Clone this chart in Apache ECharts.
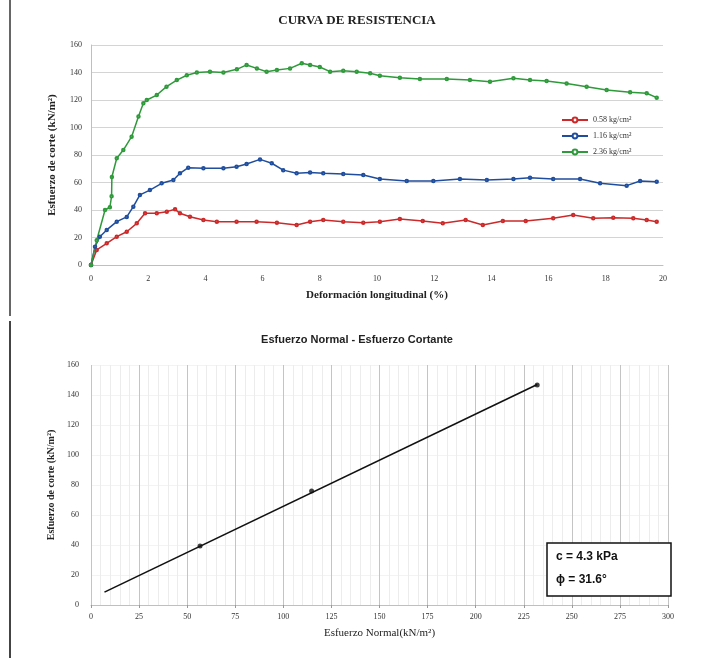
<!DOCTYPE html>
<html>
<head>
<meta charset="utf-8">
<script src="https://cdn.jsdelivr.net/npm/echarts@6/dist/echarts.min.js"></script>
<style>
html,body{margin:0;padding:0;background:#fff;}
#c{width:701px;height:658px;}
</style>
</head>
<body>
<div id="c"></div>
<script>
// ---- Top chart: CURVA DE RESISTENCIA ----
const xTicksTop = [0, 2, 4, 6, 8, 10, 12, 14, 16, 18, 20];
const legendNames = ['0.58 kg/cm²', '1.16 kg/cm²', '2.36 kg/cm²'];

const redX = [0, 0.2, 0.55, 0.9, 1.25, 1.6, 1.89, 2.3, 2.65, 2.94, 3.11, 3.46, 3.93, 4.4, 5.09, 5.79, 6.5, 7.19, 7.66, 8.12, 8.82, 9.52, 10.1, 10.8, 11.6, 12.3, 13.1, 13.7, 14.4, 15.2, 16.16, 16.86, 17.56, 18.26, 18.96, 19.43, 19.78];
const redY = [0, 11, 15.8, 20.6, 24.2, 30.3, 37.6, 37.6, 38.8, 40.5, 37.6, 35.1, 32.7, 31.5, 31.5, 31.5, 30.8, 29.1, 31.5, 32.7, 31.5, 30.8, 31.5, 33.5, 32, 30.3, 32.7, 29.1, 32, 32, 34, 36.4, 34, 34.4, 34, 32.7, 31.5];

const blueX = [0, 0.14, 0.31, 0.55, 0.9, 1.25, 1.48, 1.71, 2.06, 2.47, 2.88, 3.11, 3.4, 3.93, 4.63, 5.09, 5.44, 5.91, 6.32, 6.72, 7.19, 7.66, 8.12, 8.82, 9.52, 10.1, 11.04, 11.97, 12.9, 13.84, 14.77, 15.35, 16.16, 17.1, 17.8, 18.73, 19.2, 19.78];
const blueY = [0, 13.3, 20.6, 25.5, 31.5, 35, 42.4, 51, 54.5, 59.4, 61.8, 66.7, 70.8, 70.3, 70.3, 71.5, 73.5, 76.8, 74, 69, 66.7, 67.2, 66.7, 66.2, 65.5, 62.5, 61.1, 61.1, 62.5, 61.8, 62.5, 63.5, 62.5, 62.5, 59.4, 57.7, 61.1, 60.6];

const greenX = [0, 0.2, 0.49, 0.66, 0.72, 0.73, 0.9, 1.13, 1.42, 1.66, 1.83, 1.95, 2.3, 2.64, 3.0, 3.35, 3.7, 4.16, 4.63, 5.1, 5.44, 5.8, 6.14, 6.5, 6.96, 7.37, 7.66, 8.0, 8.36, 8.82, 9.29, 9.76, 10.1, 10.8, 11.5, 12.44, 13.25, 13.95, 14.77, 15.35, 15.93, 16.63, 17.33, 18.03, 18.85, 19.43, 19.78];
const greenY = [0, 18, 40, 42, 50, 64, 77.6, 83.6, 93.3, 108, 117.6, 120, 123.6, 129.7, 134.5, 138, 140, 140.6, 140, 142.3, 145.5, 143, 140.6, 141.8, 143, 146.7, 145.5, 144, 140.6, 141.3, 140.6, 139.4, 137.7, 136.2, 135.3, 135.3, 134.5, 133.3, 135.8, 134.5, 133.8, 132, 129.7, 127.3, 125.6, 124.9, 121.7];

// ---- Bottom chart: Esfuerzo Normal - Esfuerzo Cortante ----
const sigmaPts = [56.7, 114.7, 232];
const tauPts = [39.3, 76, 146.7];
const trendX = [7, 232];
const trendY = [8.6, 147];
const cohesionText = 'c = 4.3 kPa';
const phiText = 'ϕ = 31.6°';

function zip(a, b) { return a.map((v, i) => [v, b[i]]); }

const serif = 'Liberation Serif';

function lineSeries(name, xs, ys, color) {
  return {
    name: name, type: 'line', xAxisIndex: 0, yAxisIndex: 0,
    data: zip(xs, ys),
    symbol: 'emptyCircle', symbolSize: 2.5, showSymbol: true,
    lineStyle: { color: color, width: 1.5 },
    itemStyle: { color: color, borderColor: color, borderWidth: 0.8 },
    animation: false
  };
}

const chart = echarts.init(document.getElementById('c'), null, { renderer: 'canvas' });
chart.setOption({
  backgroundColor: '#fff',
  animation: false,
  grid: [
    { left: 91, top: 45, width: 572, height: 220 },
    { left: 91, top: 365, width: 577, height: 240 }
  ],
  legend: {
    data: legendNames,
    orient: 'vertical',
    left: 556, top: 111,
    itemWidth: 26, itemHeight: 6, itemGap: 8,
    textStyle: { fontFamily: serif, fontSize: 8, color: '#333' }
  },
  xAxis: [
    {
      gridIndex: 0, type: 'value', min: 0, max: 20, interval: 2,
      name: 'Deformación longitudinal (%)', nameLocation: 'middle', nameGap: 25,
      nameTextStyle: { fontFamily: serif, fontSize: 11, fontWeight: 'bold', color: '#222' },
      axisLine: { show: true, lineStyle: { color: '#bfbfbf' } },
      axisTick: { show: false },
      axisLabel: { fontFamily: serif, fontSize: 8, color: '#333', margin: 10 },
      splitLine: { show: false }
    },
    {
      gridIndex: 1, type: 'value', min: 0, max: 300, interval: 25,
      name: 'Esfuerzo Normal(kN/m²)', nameLocation: 'middle', nameGap: 23,
      nameTextStyle: { fontFamily: serif, fontSize: 11, color: '#222' },
      axisLine: { show: true, lineStyle: { color: '#bfbfbf' } },
      axisTick: { show: true, length: 3, lineStyle: { color: '#999' } },
      axisLabel: { fontFamily: serif, fontSize: 8, color: '#333', margin: 8 },
      splitLine: { show: true, lineStyle: { color: '#c4c4c4', width: 1 } },
      minorTick: { show: false, splitNumber: 5 },
      minorSplitLine: { show: true, lineStyle: { color: '#ececec', width: 1 } }
    }
  ],
  yAxis: [
    {
      gridIndex: 0, type: 'value', min: 0, max: 160, interval: 20,
      name: 'Esfuerzo de corte (kN/m²)', nameLocation: 'middle', nameGap: 33,
      nameTextStyle: { fontFamily: serif, fontSize: 11, fontWeight: 'bold', color: '#222' },
      axisLine: { show: true, lineStyle: { color: '#bfbfbf' } },
      axisTick: { show: false },
      axisLabel: { fontFamily: serif, fontSize: 8, color: '#333', margin: 9 },
      splitLine: { show: true, lineStyle: { color: '#d4d4d4', width: 1.2 } }
    },
    {
      gridIndex: 1, type: 'value', min: 0, max: 160, interval: 20,
      name: 'Esfuerzo de corte (kN/m²)', nameLocation: 'middle', nameGap: 34,
      nameTextStyle: { fontFamily: serif, fontSize: 10, fontWeight: 'bold', color: '#222' },
      axisLine: { show: false },
      axisTick: { show: false },
      axisLabel: { fontFamily: serif, fontSize: 8, color: '#333', margin: 12 },
      splitLine: { show: true, lineStyle: { color: '#f3f3f3', width: 1 } }
    }
  ],
  series: [
    lineSeries(legendNames[0], redX, redY, '#cc2a2a'),
    lineSeries(legendNames[1], blueX, blueY, '#1f4e9e'),
    lineSeries(legendNames[2], greenX, greenY, '#2e9a3a'),
    {
      type: 'line', xAxisIndex: 1, yAxisIndex: 1,
      data: zip(trendX, trendY),
      showSymbol: false, symbol: 'none',
      lineStyle: { color: '#111', width: 1.6 },
      animation: false
    },
    {
      type: 'scatter', xAxisIndex: 1, yAxisIndex: 1,
      data: zip(sigmaPts, tauPts),
      symbol: 'circle', symbolSize: 5,
      itemStyle: { color: '#111' },
      animation: false
    }
  ],
  graphic: [
    { type: 'text', x: 357, y: 14,
      style: { text: 'CURVA DE RESISTENCIA', font: 'bold 13px "Liberation Serif"', fill: '#222', textAlign: 'center' } },
    { type: 'text', x: 357, y: 334,
      style: { text: 'Esfuerzo Normal - Esfuerzo Cortante', font: 'bold 11px "Liberation Sans"', fill: '#222', textAlign: 'center' } },
    { type: 'line', shape: { x1: 10, y1: 0, x2: 10, y2: 316 }, style: { stroke: '#666', lineWidth: 2 } },
    { type: 'line', shape: { x1: 10, y1: 321, x2: 10, y2: 658 }, style: { stroke: '#444', lineWidth: 2 } },
    { type: 'rect', shape: { x: 547, y: 543, width: 124, height: 53 },
      style: { fill: '#fff', stroke: '#111', lineWidth: 1.5 }, z: 100 },
    { type: 'text', x: 556, y: 551, z: 101,
      style: { text: cohesionText, font: 'bold 12px "Liberation Sans"', fill: '#111' } },
    { type: 'text', x: 556, y: 574, z: 101,
      style: { text: phiText, font: 'bold 12px "Liberation Sans"', fill: '#111' } }
  ]
});
</script>
</body>
</html>
